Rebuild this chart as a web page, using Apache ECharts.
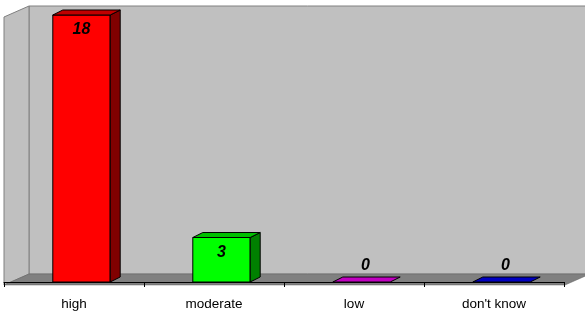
<!DOCTYPE html>
<html>
<head>
<meta charset="utf-8">
<script src="https://cdn.jsdelivr.net/npm/echarts@6/dist/echarts.min.js"></script>
<style>
  html, body { margin: 0; padding: 0; background: #fff; }
  #chart { width: 585px; height: 315px; }
</style>
</head>
<body>
<div id="chart"></div>
<script>
var categories = ['high', 'moderate', 'low', "don't know"];
var values = [18, 3, 0, 0];
// front / top / side colours of each bar
var frontColors = ['#ff0000', '#00ff00', '#ff00ff', '#0000ff'];
var topColors = ['#c00000', '#00c000', '#c000c0', '#0000c0'];
var sideColors = ['#800000', '#008000', '#800080', '#000080'];

var DX = 10, DY = -5; // 3d depth of a bar
var SHIFT = 7.5;      // bars sit a bit behind the front plane

var chart = echarts.init(document.getElementById('chart'), null, { renderer: 'canvas' });

function renderBar(params, api) {
  var i = params.dataIndex;
  var v = api.value(1);
  var top = api.coord([api.value(0), v]);
  var base = api.coord([api.value(0), 0]);
  var band = api.size([1, 0])[0];
  var w = band * 0.41;
  var x0 = top[0] - w / 2 + SHIFT;
  var x1 = x0 + w;
  var yt = top[1], yb = base[1];
  var line = { stroke: '#000', lineWidth: 1 };
  var children = [];
  if (yb - yt > 0) {
    children.push({
      type: 'polygon',
      shape: { points: [[x0, yt], [x1, yt], [x1, yb], [x0, yb]] },
      style: Object.assign({ fill: frontColors[i] }, line)
    });
    children.push({
      type: 'polygon',
      shape: { points: [[x1, yt], [x1 + DX, yt + DY], [x1 + DX, yb + DY], [x1, yb]] },
      style: Object.assign({ fill: sideColors[i] }, line)
    });
  }
  children.push({
    type: 'polygon',
    shape: { points: [[x0, yt], [x1, yt], [x1 + DX, yt + DY], [x0 + DX, yt + DY]] },
    style: Object.assign({ fill: topColors[i] }, line)
  });
  var lx = x0 + w / 2 + (v > 0 ? 0 : 4);
  var ly = v > 0 ? yt + 15 : yt - 16;
  children.push({
    type: 'text',
    style: {
      text: String(v),
      x: lx,
      y: ly,
      align: 'center',
      verticalAlign: 'middle',
      fontSize: 16,
      fontWeight: 'bold',
      fontStyle: 'italic',
      fontFamily: 'Arial, "Liberation Sans", sans-serif',
      fill: '#000'
    }
  });
  return { type: 'group', children: children };
}

var option = {
  animation: false,
  backgroundColor: '#ffffff',
  graphic: [
    {
      // back wall
      type: 'polygon', z: -10, silent: true,
      shape: { points: [[29, 6], [586, 6], [586, 274], [29, 274]] },
      style: { fill: '#c0c0c0', stroke: '#808080', lineWidth: 1 }
    },
    {
      // side wall
      type: 'polygon', z: -9, silent: true,
      shape: { points: [[4, 17], [29, 6], [29, 274], [4, 285]] },
      style: { fill: '#c0c0c0', stroke: '#808080', lineWidth: 1 }
    },
    {
      // floor
      type: 'polygon', z: -8, silent: true,
      shape: { points: [[4, 285], [29, 274], [590, 274], [565, 285]] },
      style: { fill: '#808080', stroke: '#606060', lineWidth: 0.5 }
    }
  ],
  grid: {
    left: 4,
    right: 21,
    top: 15,
    bottom: 33
  },
  xAxis: {
    type: 'category',
    data: categories,
    offset: 4,
    axisLine: { lineStyle: { color: '#000', width: 1 } },
    axisTick: { show: true, length: 5, lineStyle: { color: '#000' } },
    axisLabel: {
      color: '#000',
      fontSize: 13.5,
      margin: 11,
      fontFamily: 'Arial, "Liberation Sans", sans-serif'
    }
  },
  yAxis: {
    type: 'value',
    min: 0,
    max: 18,
    show: false,
    splitLine: { show: false }
  },
  series: [{
    type: 'custom',
    renderItem: renderBar,
    data: values.map(function (v, i) { return [i, v]; }),
    z: 5
  }]
};

chart.setOption(option);
</script>
</body>
</html>
